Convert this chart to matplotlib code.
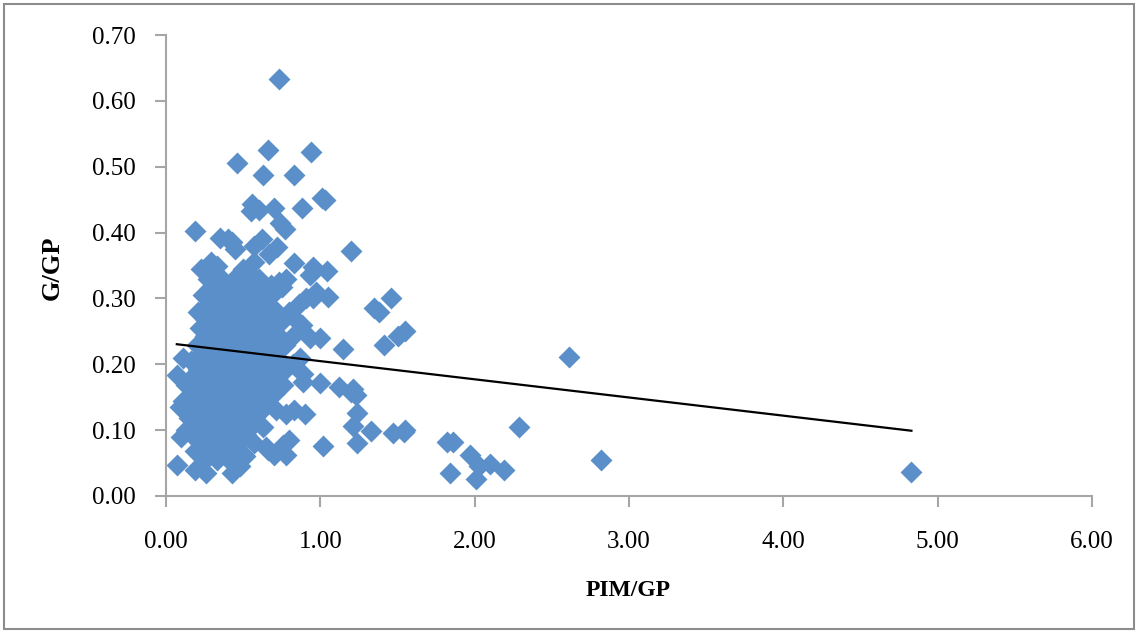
import matplotlib
matplotlib.use("Agg")
import matplotlib.pyplot as plt
from matplotlib.patches import Rectangle
import numpy as np

# PIM/GP (x) and G/GP (y)
# dense cluster, row by row
pim_gp = [
    0.27, 0.36, 0.44, 0.52, 0.60,
    0.31, 0.40, 0.48, 0.56, 0.75,
    0.24, 0.34, 0.45, 0.53, 0.62, 0.69,
    0.28, 0.38, 0.49, 0.58, 0.66, 0.86,
    0.21, 0.32, 0.42, 0.51, 0.60, 0.72, 0.80,
    0.26, 0.36, 0.46, 0.55, 0.64, 0.76, 0.84,
    0.22, 0.30, 0.40, 0.49, 0.58, 0.69,
    0.25, 0.34, 0.44, 0.53, 0.62, 0.73, 0.82,
    0.20, 0.29, 0.38, 0.47, 0.56, 0.66, 0.77,
    0.24, 0.33, 0.42, 0.51, 0.60, 0.70,
    0.16, 0.27, 0.37, 0.46, 0.55, 0.64, 0.74,
    0.21, 0.31, 0.41, 0.50, 0.59, 0.68, 0.78,
    0.17, 0.26, 0.35, 0.45, 0.54, 0.63, 0.72,
    0.13, 0.22, 0.30, 0.39, 0.48, 0.57, 0.67, 0.76,
    0.18, 0.27, 0.36, 0.44, 0.52, 0.61, 0.70,
    0.14, 0.23, 0.32, 0.40, 0.49, 0.58, 0.65,
    0.19, 0.28, 0.36, 0.45, 0.54, 0.62, 0.71,
    0.15, 0.24, 0.33, 0.41, 0.50, 0.57,
    0.20, 0.29, 0.38, 0.47, 0.55, 0.63,
    0.17, 0.26, 0.34, 0.43, 0.52,
    0.22, 0.31, 0.39, 0.48, 0.57,
    0.19, 0.27, 0.36, 0.45,
    0.25, 0.33, 0.41,
]
g_gp = (
    [0.330] * 5 + [0.318] * 5 + [0.305] * 6 + [0.292] * 6 + [0.280] * 7
    + [0.268] * 7 + [0.255] * 6 + [0.243] * 7 + [0.230] * 7 + [0.218] * 6
    + [0.205] * 7 + [0.193] * 7 + [0.180] * 7 + [0.168] * 8 + [0.155] * 7
    + [0.143] * 7 + [0.130] * 7 + [0.118] * 6 + [0.105] * 6 + [0.093] * 5
    + [0.080] * 5 + [0.068] * 4 + [0.055] * 3
)

# scattered points around the cluster
pim_gp_out = [
    0.73, 0.46, 0.66, 0.94, 0.63, 0.83, 1.01, 1.03, 0.56, 0.60, 0.70, 0.88,
    0.55, 0.19, 0.74, 0.77, 0.35, 0.40, 0.43, 0.45, 0.62, 0.57, 0.72, 0.67,
    1.20, 0.83, 0.95, 0.93, 1.04, 0.23, 0.29, 0.27, 0.33, 0.50, 0.53, 0.57,
    0.73, 0.78, 0.68, 0.91, 0.95, 1.05, 0.97, 1.46, 1.35, 1.38, 1.55, 1.50,
    1.41, 1.15, 0.93, 1.00, 0.88, 2.61, 0.87, 0.82, 0.89, 0.89, 1.00, 1.12,
    1.21, 1.23, 1.20, 1.24, 1.21, 1.33, 1.24, 1.47, 1.55, 1.54, 1.02, 0.90,
    0.83, 0.78, 0.80, 0.76, 0.78, 0.66, 0.70, 0.65, 1.82, 1.86, 1.84, 1.97,
    2.03, 2.01, 2.10, 2.19, 2.29, 2.82, 4.83, 0.07, 0.19, 0.26, 0.43, 0.48,
    0.51, 0.07, 0.11, 0.09, 0.11, 0.10, 0.13,
]
g_gp_out = [
    0.633, 0.506, 0.525, 0.522, 0.487, 0.487, 0.452, 0.450, 0.443, 0.435, 0.438, 0.438,
    0.432, 0.403, 0.415, 0.405, 0.392, 0.390, 0.385, 0.375, 0.390, 0.380, 0.378, 0.368,
    0.372, 0.354, 0.347, 0.335, 0.342, 0.345, 0.355, 0.340, 0.350, 0.345, 0.340, 0.355,
    0.325, 0.330, 0.320, 0.300, 0.300, 0.302, 0.310, 0.301, 0.285, 0.280, 0.250, 0.243,
    0.229, 0.223, 0.240, 0.240, 0.260, 0.211, 0.210, 0.200, 0.185, 0.173, 0.172, 0.166,
    0.163, 0.153, 0.158, 0.126, 0.107, 0.098, 0.080, 0.095, 0.100, 0.097, 0.076, 0.125,
    0.130, 0.125, 0.085, 0.078, 0.063, 0.070, 0.062, 0.075, 0.082, 0.082, 0.035, 0.062,
    0.045, 0.026, 0.048, 0.040, 0.105, 0.055, 0.037, 0.047, 0.040, 0.035, 0.035, 0.045,
    0.060, 0.183, 0.210, 0.135, 0.145, 0.090, 0.100,
]

# linear trend line (Excel), slope and intercept
trend_slope = -0.0276
trend_intercept = 0.2324

x = np.array(pim_gp + pim_gp_out)
y = np.array(g_gp + g_gp_out)

plt.rcParams['font.family'] = ['Liberation Serif', 'DejaVu Serif']

fig = plt.figure(figsize=(11.38, 6.32), dpi=100)
ax = fig.add_axes([166 / 1138, 1 - 496 / 632, (1092 - 166) / 1138, (496 - 35) / 632])

ax.scatter(x, y, marker='D', s=125, color='#5B8FC9', linewidths=0, zorder=2)

tx = np.array([x.min(), x.max()])
ax.plot(tx, trend_intercept + trend_slope * tx, color='black', lw=1.6, zorder=3)

ax.set_xlim(0, 6)
ax.set_ylim(0, 0.7)
ax.set_xticks(np.arange(0, 6.01, 1))
ax.set_yticks(np.arange(0, 0.701, 0.1))
ax.set_xticklabels([f"{v:.2f}" for v in np.arange(0, 6.01, 1)])
ax.set_yticklabels([f"{v:.2f}" for v in np.arange(0, 0.701, 0.1)])
ax.tick_params(labelsize=18, length=8, width=1.5, color='#A6A6A6')
ax.tick_params(axis='x', pad=17)
ax.tick_params(axis='y', pad=14)

for s in ['top', 'right']:
    ax.spines[s].set_visible(False)
for s in ['left', 'bottom']:
    ax.spines[s].set_color('#A6A6A6')
    ax.spines[s].set_linewidth(1.5)

ax.set_xlabel('PIM/GP', fontsize=17, fontweight='bold')
ax.set_ylabel('G/GP', fontsize=19, fontweight='bold')
ax.xaxis.label.set_va('center')
ax.yaxis.label.set_va('center')
ax.xaxis.set_label_coords(0.5 - 0.001, (496 - 590) / 461)
ax.yaxis.set_label_coords((52 - 166) / 926, (496 - 268) / 461)

fig.patches.append(Rectangle((4 / 1138, 3 / 632), 1130 / 1138, 625 / 632,
                             transform=fig.transFigure, fill=False,
                             edgecolor='#8C8C8C', lw=1.5))

fig.savefig('out.png', dpi=100)
